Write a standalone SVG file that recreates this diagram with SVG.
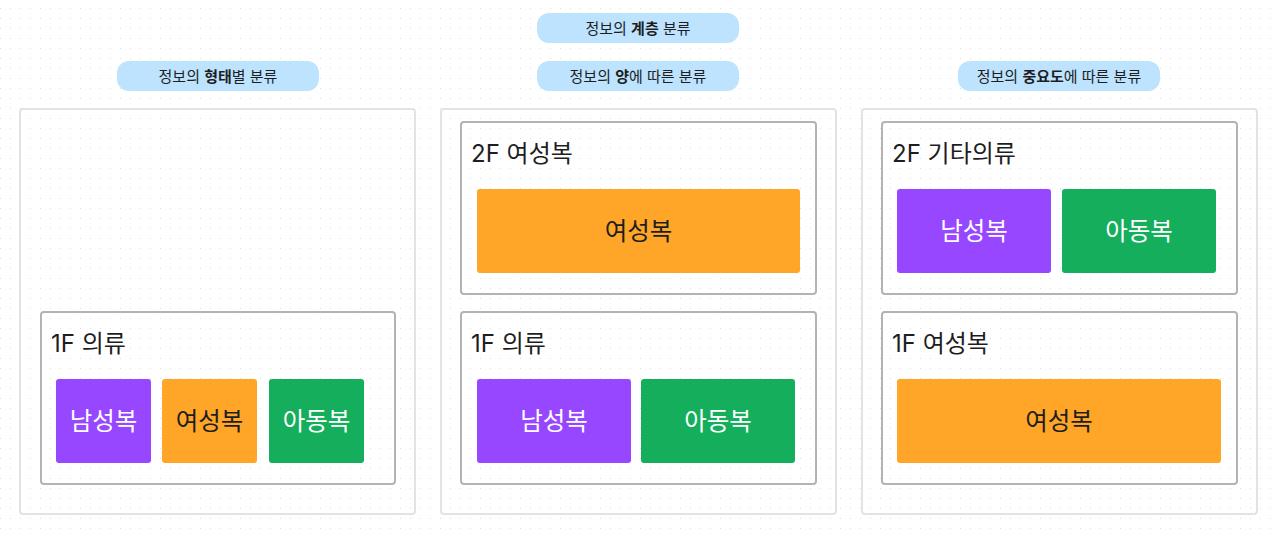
<svg xmlns="http://www.w3.org/2000/svg" width="1280" height="536" viewBox="0 0 1280 536">
<defs>
<pattern id="dots" x="0" y="8" width="10" height="10" patternUnits="userSpaceOnUse">
<rect x="0" y="0" width="1" height="1" fill="#dcdcdc"/>
</pattern>
<style>
.pill{fill:#bde3ff;}
.pt{font-family:Inter,"Noto Sans CJK KR",sans-serif;font-size:15px;fill:#1e1e1e;text-anchor:middle;}
.b{font-weight:700;}
.panel{fill:none;stroke:#e3e3e3;stroke-width:2;}
.inner{fill:none;stroke:#b3b3b3;stroke-width:2;}
.lbl{font-family:Inter,"Noto Sans CJK KR",sans-serif;font-size:24px;fill:#1e1e1e;}
.ct{font-family:Inter,"Noto Sans CJK KR",sans-serif;font-size:24.5px;text-anchor:middle;}
.pur{fill:#9747ff;}
.org{fill:#ffa629;}
.grn{fill:#14ae5c;}
.w{fill:#ffffff;}
.k{fill:#1e1e1e;}
</style>
</defs>
<rect width="1280" height="536" fill="#ffffff"/>
<rect width="1280" height="536" fill="url(#dots)"/>

<g id="title-hierarchy">
<rect class="pill" x="537" y="13" width="202" height="30" rx="12"/>
<text class="pt" x="638" y="33.5">정보의 <tspan class="b">계층</tspan> 분류</text>
</g>
<g id="title-form">
<rect class="pill" x="117" y="61" width="202" height="30" rx="12"/>
<text class="pt" x="218" y="81.5">정보의 <tspan class="b">형태</tspan>별 분류</text>
</g>
<g id="title-amount">
<rect class="pill" x="537" y="61" width="202" height="30" rx="12"/>
<text class="pt" x="638" y="81.5">정보의 <tspan class="b">양</tspan>에 따른 분류</text>
</g>
<g id="title-importance">
<rect class="pill" x="958" y="61" width="202" height="30" rx="12"/>
<text class="pt" x="1059" y="81.5">정보의 <tspan class="b">중요도</tspan>에 따른 분류</text>
</g>

<g id="panel-form">
<rect class="panel" x="20" y="109" width="395" height="405" rx="3"/>
<g id="form-1f">
<rect class="inner" x="41" y="312" width="354" height="172" rx="3"/>
<text class="lbl" x="51" y="352">1F 의류</text>
<rect class="pur" x="56" y="379" width="95" height="84" rx="3"/>
<text class="ct w" x="103.5" y="430">남성복</text>
<rect class="org" x="162" y="379" width="95" height="84" rx="3"/>
<text class="ct k" x="209.5" y="430">여성복</text>
<rect class="grn" x="269" y="379" width="95" height="84" rx="3"/>
<text class="ct w" x="316.5" y="430">아동복</text>
</g>
</g>

<g id="panel-amount">
<rect class="panel" x="441" y="109" width="395" height="405" rx="3"/>
<g id="amount-2f">
<rect class="inner" x="461" y="122" width="355" height="172" rx="3"/>
<text class="lbl" x="471" y="162">2F 여성복</text>
<rect class="org" x="477" y="189" width="323" height="84" rx="3"/>
<text class="ct k" x="638.5" y="240">여성복</text>
</g>
<g id="amount-1f">
<rect class="inner" x="461" y="312" width="355" height="172" rx="3"/>
<text class="lbl" x="471" y="352">1F 의류</text>
<rect class="pur" x="477" y="379" width="154" height="84" rx="3"/>
<text class="ct w" x="554" y="430">남성복</text>
<rect class="grn" x="641" y="379" width="154" height="84" rx="3"/>
<text class="ct w" x="718" y="430">아동복</text>
</g>
</g>

<g id="panel-importance">
<rect class="panel" x="862" y="109" width="395" height="405" rx="3"/>
<g id="importance-2f">
<rect class="inner" x="882" y="122" width="355" height="172" rx="3"/>
<text class="lbl" x="892" y="162">2F 기타의류</text>
<rect class="pur" x="897" y="189" width="154" height="84" rx="3"/>
<text class="ct w" x="974" y="240">남성복</text>
<rect class="grn" x="1062" y="189" width="154" height="84" rx="3"/>
<text class="ct w" x="1139" y="240">아동복</text>
</g>
<g id="importance-1f">
<rect class="inner" x="882" y="312" width="355" height="172" rx="3"/>
<text class="lbl" x="892" y="352">1F 여성복</text>
<rect class="org" x="897" y="379" width="324" height="84" rx="3"/>
<text class="ct k" x="1059" y="430">여성복</text>
</g>
</g>

<g id="connectors"></g>
</svg>
